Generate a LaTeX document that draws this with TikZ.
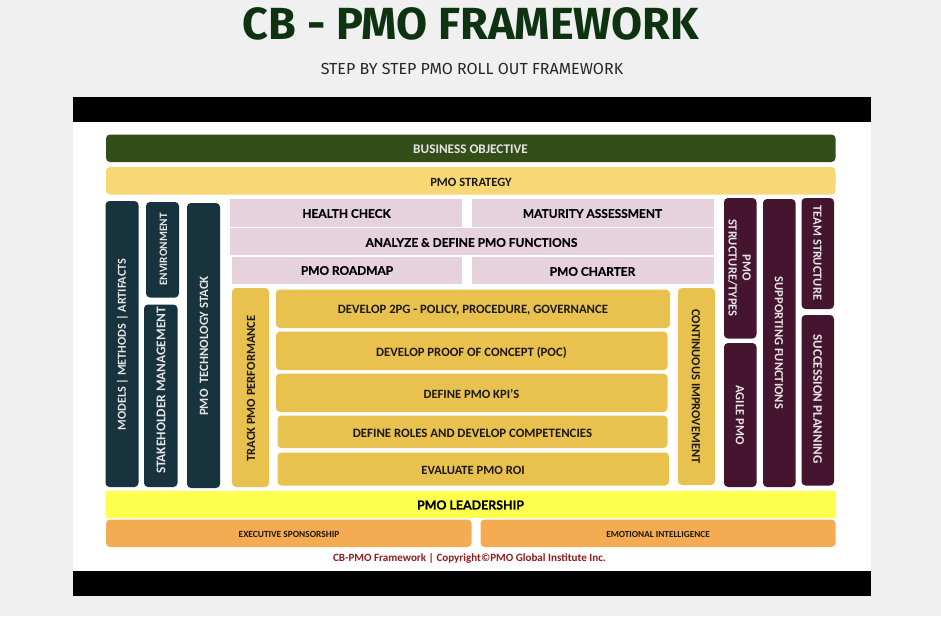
\documentclass[tikz,border=0pt]{standalone}
\usepackage{fontspec}
\setmainfont{Carlito}
\newfontfamily\firafont{Fira Sans}
\newfontfamily\latofont[FakeBold=0.6]{Lato}
\definecolor{pagebg}{HTML}{F0F0F0}
\definecolor{titlegreen}{HTML}{0D3311}
\definecolor{objgreen}{HTML}{344E1A}
\definecolor{strat}{HTML}{F8D875}
\definecolor{navy}{HTML}{17333D}
\definecolor{pinkbox}{HTML}{E6D2DC}
\definecolor{mustard}{HTML}{E9C14F}
\definecolor{plum}{HTML}{45142E}
\definecolor{leadyellow}{HTML}{FFFF4D}
\definecolor{orangebox}{HTML}{F5AB52}
\definecolor{copyred}{HTML}{8F1D1D}
\definecolor{inktext}{HTML}{1C1A10}
\newcommand{\fsz}[1]{\fontsize{#1}{#1}\selectfont\bfseries}
\tikzset{
  blk/.style={rounded corners=4pt,draw=none},
  lab/.style={inner sep=0pt,font=\fsz{12.5}},
  labw/.style={lab,text=white!90!black},
  labk/.style={lab,text=inktext,font=\fsz{12.6}},
  labh/.style={inner sep=0pt,text=black,font=\fontsize{11.9}{12}\selectfont\latofont\bfseries},
}
\begin{document}
\begin{tikzpicture}[x=1pt,y=-1pt]
\useasboundingbox (0,0) rectangle (941,616);
\fill[pagebg] (0,0) rectangle (941,616);
\node[inner sep=0pt,text=titlegreen,font=\fontsize{45}{46}\selectfont\firafont\bfseries] (title) at (471,24) {CB - PMO FRAMEWORK};
\node[inner sep=0pt,text=black!85,font=\fontsize{16}{17}\selectfont\firafont] (subtitle) at (472,68.5) {STEP BY STEP PMO ROLL OUT FRAMEWORK};
% frame
\fill[white] (73,97) rectangle (871,596);
\fill[black] (73,97) rectangle (871,122);
\fill[black] (73,571) rectangle (871,596);
% horizontal bands
\fill[blk,objgreen] (106,134.5) rectangle (835.5,162);
\node[labw,font=\fsz{13.2}] (obj) at (470.5,149) {BUSINESS OBJECTIVE};
\fill[blk,strat] (106,167) rectangle (835.5,194.5);
\node[labk] (strategy) at (471,182.3) {PMO STRATEGY};
% left columns
\fill[blk,navy] (105.5,201) rectangle (138.5,487);
\node[labw,font=\fsz{12.2}] (models) [rotate=90] at (122.5,344.5) {MODELS | METHODS | ARTIFACTS};
\fill[blk,navy] (146,202) rectangle (179,297.5);
\node[labw,font=\fsz{11.3},rotate=90] (env) at (163.5,249.5) {ENVIRONMENT};
\fill[blk,navy] (144,304.5) rectangle (177.5,487);
\node[labw,font=\fsz{13.3},rotate=90] (stake) at (161,390.5) {STAKEHOLDER MANAGEMENT};
\fill[blk,navy] (187,203) rectangle (220,488);
\node[labw,font=\fsz{12.7},rotate=90] (tech) at (204,346) {PMO\ \ TECHNOLOGY STACK};
% pink
\fill[pinkbox] (230,199) rectangle (462,226.5);
\node[labh] (health) at (346.5,213.5) {HEALTH CHECK};
\fill[pinkbox] (472,199) rectangle (713.5,226.5);
\node[labh] (maturity) at (592.5,213.5) {MATURITY ASSESSMENT};
\fill[pinkbox] (230,228) rectangle (713.5,255);
\node[labh] (analyze) at (471.5,242.5) {ANALYZE \& DEFINE PMO FUNCTIONS};
\fill[pinkbox] (231.5,256.5) rectangle (462,283.5);
\node[labh] (roadmap) at (347,270.5) {PMO ROADMAP};
\fill[pinkbox] (472,257) rectangle (713.5,284);
\node[labh] (charter) at (592.5,271.5) {PMO CHARTER};
% mustard
\fill[blk,mustard] (232,288) rectangle (269,487);
\node[labk,font=\fsz{12.5},rotate=90] (track) at (251,388.5) {TRACK PMO PERFORMANCE};
\fill[blk,mustard] (276,289.5) rectangle (670,328);
\node[labk,font=\fsz{12.7}] (tpg) at (473,310.3) {DEVELOP 2PG - POLICY, PROCEDURE, GOVERNANCE};
\fill[blk,mustard] (276,331.5) rectangle (667.5,370);
\node[labk,font=\fsz{12.7}] (poc) at (471.5,352.5) {DEVELOP PROOF OF CONCEPT (POC)};
\fill[blk,mustard] (276,373.5) rectangle (667.5,412);
\node[labk] (kpi) at (471.5,393.8) {DEFINE PMO KPI'S};
\fill[blk,mustard] (277.5,415.5) rectangle (667.5,448);
\node[labk,font=\fsz{12.8}] (roles) at (472.5,433) {DEFINE ROLES AND DEVELOP COMPETENCIES};
\fill[blk,mustard] (277.5,452.5) rectangle (669,485.5);
\node[labk] (roi) at (473,470) {EVALUATE PMO ROI};
\fill[blk,mustard] (678,288) rectangle (715,485);
\node[labk,font=\fsz{12.4},rotate=-90] (cont) at (696,386.3) {CONTINUOUS IMPROVEMENT};
% plum
\fill[blk,plum] (724,198) rectangle (756.5,338.5);
\node[labw,rotate=-90] (struct2) at (732.7,268) {STRUCTURE/TYPES};
\node[labw,rotate=-90] (struct1) at (746.7,268) {PMO};
\fill[blk,plum] (724,343) rectangle (756.5,487);
\node[labw,rotate=-90] (agile) at (740,415) {AGILE PMO};
\fill[blk,plum] (763,199) rectangle (795.5,487);
\node[labw,rotate=-90] (supp) at (779,343) {SUPPORTING FUNCTIONS};
\fill[blk,plum] (801.5,198) rectangle (834,309);
\node[labw,rotate=-90] (team) at (817.5,253) {TEAM STRUCTURE};
\fill[blk,plum] (801.5,315) rectangle (834,485.5);
\node[labw,font=\fsz{13.1},rotate=-90] (succ) at (817.5,399) {SUCCESSION PLANNING};
% bottom
\fill[leadyellow] (106,491) rectangle (836,518);
\node[inner sep=0pt,text=black,font=\fontsize{12.4}{13}\selectfont\latofont\bfseries] (lead) at (470.5,505) {PMO LEADERSHIP};
\fill[blk,orangebox] (106,519.5) rectangle (471.5,547);
\node[lab,text=inktext,font=\fsz{9.4}] (exec) at (289,534.3) {EXECUTIVE SPONSORSHIP};
\fill[blk,orangebox] (480.5,519.5) rectangle (835.5,547);
\node[lab,text=inktext,font=\fsz{9.25}] (emo) at (658,534.3) {EMOTIONAL INTELLIGENCE};
\node[inner sep=0pt,text=copyred,font=\fsz{11.07}] (copy) at (469.5,558.5) {CB-PMO Framework | Copyright©PMO Global Institute Inc.};
\end{tikzpicture}
\end{document}
